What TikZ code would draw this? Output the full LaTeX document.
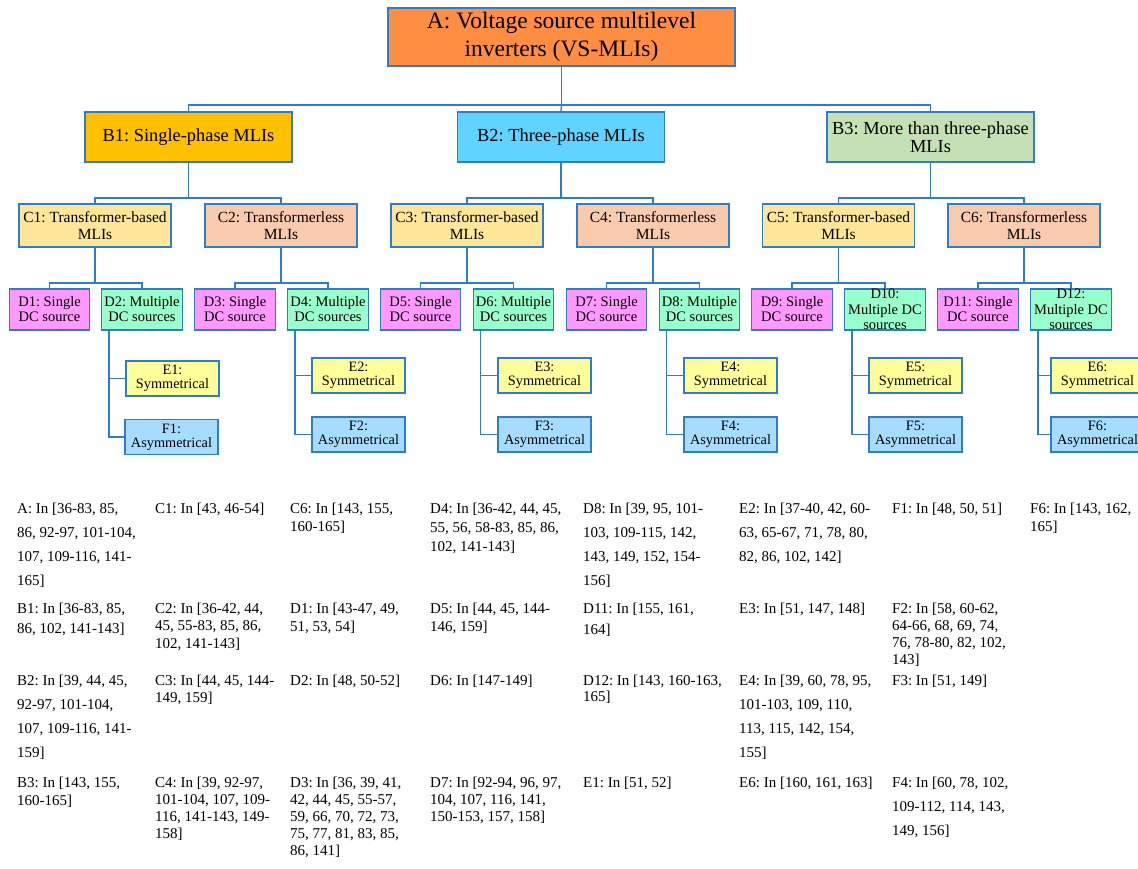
\documentclass[tikz,border=0pt]{standalone}
\usepackage{fontspec}
\setmainfont{Liberation Serif}
\frenchspacing
\definecolor{edge}{RGB}{46,125,200}
\definecolor{cA}{RGB}{255,141,66}
\definecolor{cB1}{RGB}{255,192,0}
\definecolor{cB2}{RGB}{96,212,255}
\definecolor{cB3}{RGB}{197,224,180}
\definecolor{cCt}{RGB}{255,230,153}
\definecolor{cCl}{RGB}{248,203,173}
\definecolor{cDs}{RGB}{255,153,255}
\definecolor{cDm}{RGB}{153,255,204}
\definecolor{cE}{RGB}{255,255,153}
\definecolor{cF}{RGB}{166,221,255}
% one reference cell: first argument is the line spacing, second the lines
\newcommand\citecell[2]{\parbox[t]{160pt}{\fontsize{15}{#1}\selectfont\raggedright #2}}
\begin{document}
\begin{tikzpicture}[x=1pt,y=-1pt,
  box/.style={draw=edge, line width=1.4pt, inner sep=0pt, align=center, text=black},
  boxA/.style={box, fill=cA, minimum width=347pt, minimum height=58pt, font=\fontsize{23.5}{28}\selectfont},
  boxB/.style={box, minimum width=207pt, minimum height=50pt, font=\fontsize{18.4}{18.5}\selectfont},
  boxC/.style={box, minimum width=152pt, minimum height=43pt, font=\fontsize{15.5}{16.7}\selectfont},
  boxD/.style={box, minimum width=80.5pt, minimum height=41pt, font=\fontsize{14.5}{15}\selectfont},
  boxDm/.style={boxD, fill=cDm},
  boxDs/.style={boxD, fill=cDs},
  boxE/.style={box, fill=cE, minimum width=93pt, minimum height=35pt, font=\fontsize{14.3}{14.3}\selectfont},
  boxF/.style={box, fill=cF, minimum width=93pt, minimum height=35pt, font=\fontsize{14.3}{14.3}\selectfont},
  link/.style={draw=edge, line width=1.3pt},
  cell/.style={anchor=base west, inner sep=0pt}]
\useasboundingbox (0,0) rectangle (1138,868);
\fill[white] (0,0) rectangle (1138,868);

% level A and B
\node[boxA] (A) at (561.5,37) {A: Voltage source multilevel\\inverters (VS-MLIs)};
\node[boxB, fill=cB1] (B1) at (188.5,137) {B1: Single-phase MLIs};
\node[boxB, fill=cB2] (B2) at (561,137) {B2: Three-phase MLIs};
\node[boxB, fill=cB3] (B3) at (930.5,137) {B3: More than three-phase\\MLIs};

% level C
\node[boxC, fill=cCt] (C1) at (95,225.5) {C1: Transformer-based\\MLIs};
\node[boxC, fill=cCl] (C2) at (281,225.5) {C2: Transformerless\\MLIs};
\node[boxC, fill=cCt] (C3) at (467,225.5) {C3: Transformer-based\\MLIs};
\node[boxC, fill=cCl] (C4) at (653,225.5) {C4: Transformerless\\MLIs};
\node[boxC, fill=cCt] (C5) at (838.5,225.5) {C5: Transformer-based\\MLIs};
\node[boxC, fill=cCl] (C6) at (1024,225.5) {C6: Transformerless\\MLIs};

% level D
\node[boxDs] (D1) at (49.5,309.5) {D1: Single\\DC source};
\node[boxDm] (D2) at (142,309.5) {D2: Multiple\\DC sources};
\node[boxDs] (D3) at (235,309.5) {D3: Single\\DC source};
\node[boxDm] (D4) at (328,309.5) {D4: Multiple\\DC sources};
\node[boxDs] (D5) at (420.5,309.5) {D5: Single\\DC source};
\node[boxDm] (D6) at (513.5,309.5) {D6: Multiple\\DC sources};
\node[boxDs] (D7) at (606.5,309.5) {D7: Single\\DC source};
\node[boxDm] (D8) at (699.5,309.5) {D8: Multiple\\DC sources};
\node[boxDs] (D9) at (792,309.5) {D9: Single\\DC source};
\node[boxDm, font=\fontsize{14.5}{15.3}\selectfont] (D10) at (885,309.5) {D10:\\Multiple DC\\sources};
\node[boxDs] (D11) at (978,309.5) {D11: Single\\DC source};
\node[boxDm, font=\fontsize{14.5}{15.3}\selectfont] (D12) at (1071,309.5) {D12:\\Multiple DC\\sources};

% levels E and F
\node[boxE] (E1) at (172.5,378.5) {E1:\\Symmetrical};
\node[boxF] (F1) at (171.5,437) {F1:\\Asymmetrical};
\node[boxE] (E2) at (358.5,375.5) {E2:\\Symmetrical};
\node[boxF] (F2) at (358.5,434.5) {F2:\\Asymmetrical};
\node[boxE] (E3) at (544.5,375.5) {E3:\\Symmetrical};
\node[boxF] (F3) at (544.5,434.5) {F3:\\Asymmetrical};
\node[boxE] (E4) at (730.5,375.5) {E4:\\Symmetrical};
\node[boxF] (F4) at (730.5,434.5) {F4:\\Asymmetrical};
\node[boxE] (E5) at (915.5,375.5) {E5:\\Symmetrical};
\node[boxF] (F5) at (915.5,434.5) {F5:\\Asymmetrical};
\node[boxE] (E6) at (1097.5,375.5) {E6:\\Symmetrical};
\node[boxF] (F6) at (1097.5,434.5) {F6:\\Asymmetrical};

% bus junctions
\coordinate (jA) at (561.5,105);
\coordinate (jB1) at (188.5,198);
\coordinate (jB2) at (561,198);
\coordinate (jB3) at (930.5,198);
\coordinate (jC1) at (95,283);
\coordinate (jC2) at (281,283);
\coordinate (jC3) at (467,283);
\coordinate (jC4) at (653,283);
\coordinate (jC5) at (838.5,283);
\coordinate (jC6) at (1024,283);

% tree connectors
\draw[link] (A.south) -- (jA);
\draw[link] (B1.north) |- (jA) -| (B3.north);
\draw[link] (jA) -- (B2.north);
\foreach \p/\l/\r in {B1/C1/C2, B2/C3/C4, B3/C5/C6}{
  \draw[link] (\p.south) -- (j\p);
  \draw[link] (\l.north) |- (j\p) -| (\r.north);
}
\foreach \p/\l/\r in {C1/D1/D2, C2/D3/D4, C3/D5/D6, C4/D7/D8, C5/D9/D10, C6/D11/D12}{
  \draw[link] (\p.south) -- (j\p);
  \draw[link] (\l.north) |- (j\p) -| (\r.north);
}
\foreach \d/\e/\f in {D2/E1/F1, D4/E2/F2, D6/E3/F3, D8/E4/F4, D10/E5/F5, D12/E6/F6}{
  \draw[link] ([xshift=8pt]\d.south west) |- (\f.west);
  \draw[link] ([xshift=8pt]\d.south west) |- (\e.west);
}

% reference list
\node[cell] (tA) at (17,513) {\citecell{24}{A: In [36-83, 85,\\86, 92-97, 101-104,\\107, 109-116, 141-\\165]}};
\node[cell] (tC1) at (155,513) {\citecell{18}{C1: In [43, 46-54]}};
\node[cell] (tC6) at (290,513) {\citecell{18}{C6: In [143, 155,\\160-165]}};
\node[cell] (tD4) at (430,513) {\citecell{19}{D4: In [36-42, 44, 45,\\55, 56, 58-83, 85, 86,\\102, 141-143]}};
\node[cell] (tD8) at (583,513) {\citecell{24}{D8: In [39, 95, 101-\\103, 109-115, 142,\\143, 149, 152, 154-\\156]}};
\node[cell] (tE2) at (739,513) {\citecell{24}{E2: In [37-40, 42, 60-\\63, 65-67, 71, 78, 80,\\82, 86, 102, 142]}};
\node[cell] (tF1) at (892,513) {\citecell{18}{F1: In [48, 50, 51]}};
\node[cell] (tF6) at (1030,513) {\citecell{18}{F6: In [143, 162,\\165]}};

\node[cell] (tB1) at (17,613) {\citecell{20}{B1: In [36-83, 85,\\86, 102, 141-143]}};
\node[cell] (tC2) at (155,613) {\citecell{17.5}{C2: In [36-42, 44,\\45, 55-83, 85, 86,\\102, 141-143]}};
\node[cell] (tD1) at (290,613) {\citecell{18}{D1: In [43-47, 49,\\51, 53, 54]}};
\node[cell] (tD5) at (430,613) {\citecell{18}{D5: In [44, 45, 144-\\146, 159]}};
\node[cell] (tD11) at (583,613) {\citecell{21}{D11: In [155, 161,\\164]}};
\node[cell] (tE3) at (739,613) {\citecell{18}{E3: In [51, 147, 148]}};
\node[cell] (tF2) at (892,613) {\citecell{17}{F2: In [58, 60-62,\\64-66, 68, 69, 74,\\76, 78-80, 82, 102,\\143]}};

\node[cell] (tB2) at (17,685) {\citecell{24}{B2: In [39, 44, 45,\\92-97, 101-104,\\107, 109-116, 141-\\159]}};
\node[cell] (tC3) at (155,685) {\citecell{17}{C3: In [44, 45, 144-\\149, 159]}};
\node[cell] (tD2) at (290,685) {\citecell{18}{D2: In [48, 50-52]}};
\node[cell] (tD6) at (430,685) {\citecell{18}{D6: In [147-149]}};
\node[cell] (tD12) at (583,685) {\citecell{16}{D12: In [143, 160-163,\\165]}};
\node[cell] (tE4) at (739,685) {\citecell{24}{E4: In [39, 60, 78, 95,\\101-103, 109, 110,\\113, 115, 142, 154,\\155]}};
\node[cell] (tF3) at (892,685) {\citecell{18}{F3: In [51, 149]}};

\node[cell] (tB3) at (17,787) {\citecell{18}{B3: In [143, 155,\\160-165]}};
\node[cell] (tC4) at (155,787) {\citecell{17}{C4: In [39, 92-97,\\101-104, 107, 109-\\116, 141-143, 149-\\158]}};
\node[cell] (tD3) at (290,787) {\citecell{17}{D3: In [36, 39, 41,\\42, 44, 45, 55-57,\\59, 66, 70, 72, 73,\\75, 77, 81, 83, 85,\\86, 141]}};
\node[cell] (tD7) at (430,787) {\citecell{17}{D7: In [92-94, 96, 97,\\104, 107, 116, 141,\\150-153, 157, 158]}};
\node[cell] (tE1) at (583,787) {\citecell{18}{E1: In [51, 52]}};
\node[cell] (tE6) at (739,787) {\citecell{18}{E6: In [160, 161, 163]}};
\node[cell] (tF4) at (892,787) {\citecell{24}{F4: In [60, 78, 102,\\109-112, 114, 143,\\149, 156]}};
\end{tikzpicture}
\end{document}
